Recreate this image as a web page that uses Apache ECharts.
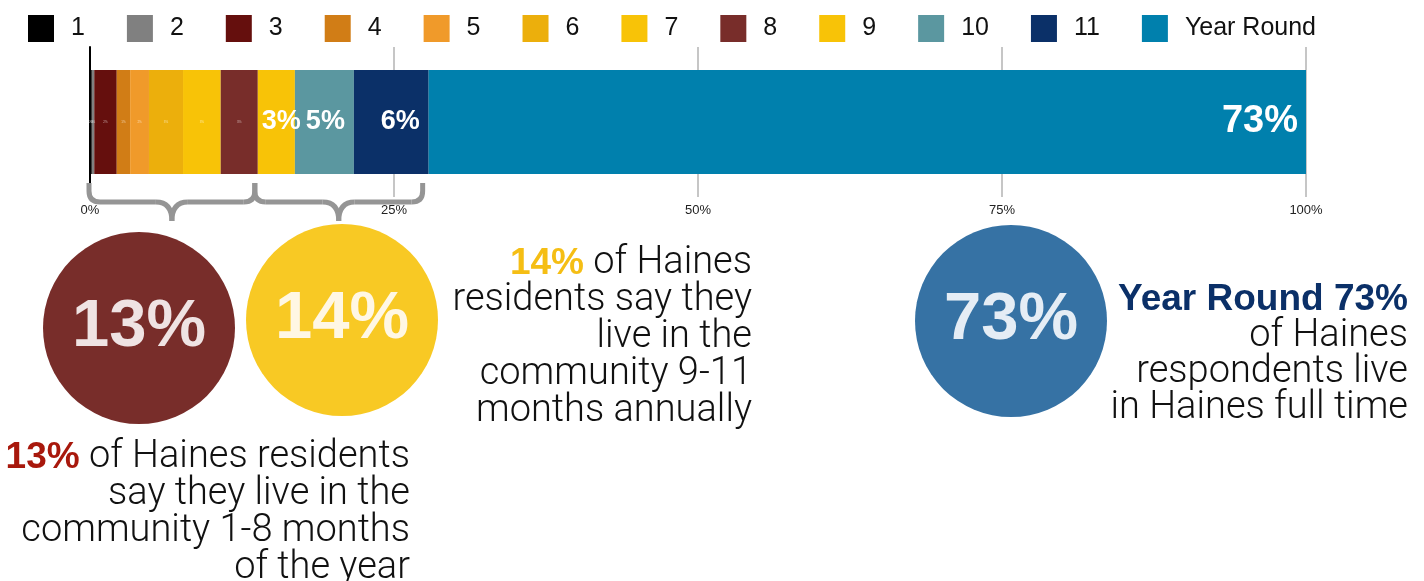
<!DOCTYPE html>
<html>
<head>
<meta charset="utf-8">
<script src="https://cdn.jsdelivr.net/npm/echarts@6/dist/echarts.min.js"></script>
<style>
  html, body { margin: 0; padding: 0; background: #fff; }
  #chart { width: 1424px; height: 581px; }
</style>
</head>
<body>
<div id="chart"></div>
<script>
// Months per year lived in Haines, one stacked bar (share of respondents, %)
const NAMES = ['1', '2', '3', '4', '5', '6', '7', '8', '9', '10', '11', 'Year Round']
const VALUES = [0.15, 0.2, 1.85, 1.1, 1.55, 2.8, 3.1, 3.05, 3.05, 4.85, 6.15, 72.15]
const LABELS = ['0%', '0%', '2%', '1%', '2%', '3%', '3%', '3%', '3%', '5%', '6%', '73%']
const COLORS = ['#000000', '#808080', '#650f0d', '#d17d16', '#f09a2a', '#ecaf0c', '#f8c307',
  '#782d2a', '#f8c307', '#5b97a0', '#0b3068', '#0080ad']
// groups for the braces: months 1-8 and months 9-11
const GROUPS = [[0, 7], [8, 10]]

const FONT = '"Liberation Sans", Arial, Helvetica, sans-serif'
const LIGHT = 'Roboto, "Liberation Sans", Arial, sans-serif'

const chart = echarts.init(document.getElementById('chart'))

function labelFor(i) {
  const big = { 8: [27, [5, 0]], 9: [27, [1, 0]], 10: [27, [9, 0]] }
  if (i === 11) {
    return { show: true, position: 'insideRight', distance: 8, formatter: LABELS[i],
      color: '#fff', fontWeight: 'bold', fontSize: 38, fontFamily: FONT }
  }
  if (big[i]) {
    return { show: true, position: 'inside', offset: big[i][1], formatter: LABELS[i],
      color: '#fff', fontWeight: 'bold', fontSize: big[i][0], fontFamily: FONT }
  }
  return { show: true, position: 'inside', formatter: LABELS[i], color: 'rgba(255,255,255,0.6)',
    fontSize: 3, fontFamily: FONT }
}

chart.setOption({
  animation: false,
  textStyle: { fontFamily: FONT },
  legend: {
    left: 23, top: 10, icon: 'rect', itemWidth: 26, itemHeight: 27, itemGap: 42,
    textStyle: { fontSize: 25, color: '#111', padding: [0, 0, 0, 12] },
    data: NAMES,
  },
  grid: { left: 90, right: 118, top: 47, bottom: 384 },
  xAxis: {
    type: 'value', min: 0, max: 100, interval: 25,
    axisLine: { show: false }, axisTick: { show: false },
    axisLabel: { formatter: '{value}%', fontSize: 13, color: '#222', margin: 7 },
    splitLine: { lineStyle: { color: '#c6c6c6', width: 2 } },
  },
  yAxis: {
    type: 'category', data: ['Haines'],
    axisLine: { lineStyle: { color: '#000', width: 2 } },
    axisTick: { show: false }, axisLabel: { show: false },
  },
  series: NAMES.map((n, i) => ({
    name: n, type: 'bar', stack: 'all', barWidth: 104,
    itemStyle: { color: COLORS[i] },
    label: labelFor(i),
    data: [VALUES[i]],
  })),
})

// braces under the bar, placed from the cumulative values
const cum = [0]
VALUES.forEach((v, i) => cum.push(cum[i] + v))
const px = (v) => chart.convertToPixel({ xAxisIndex: 0 }, v)

const brace = []
const bStyle = { stroke: '#959595', lineWidth: 5, fill: null }
const y0 = 183, y1 = 202, y2 = 221, r = 11, rt = 16
GROUPS.forEach(([a, b], k) => {
  const xa = px(cum[a]) + (k === 0 ? -1 : -3)
  const xb = px(cum[b + 1]) - (k === 0 ? 3 : 6)
  const xm = (xa + xb) / 2
  const seg = (shape, type) => brace.push({ type, shape, style: bStyle, z: 10 })
  seg({ x1: xa, y1: y0, x2: xa, y2: y1 - r }, 'line')
  seg({ x1: xa, y1: y1 - r, cpx1: xa, cpy1: y1, x2: xa + r, y2: y1 }, 'bezierCurve')
  seg({ x1: xa + r, y1: y1, x2: xm - rt, y2: y1 }, 'line')
  seg({ x1: xm - rt, y1: y1, cpx1: xm, cpy1: y1, x2: xm, y2: y2 }, 'bezierCurve')
  seg({ x1: xm, y1: y2, cpx1: xm, cpy1: y1, x2: xm + rt, y2: y1 }, 'bezierCurve')
  seg({ x1: xm + rt, y1: y1, x2: xb - r, y2: y1 }, 'line')
  seg({ x1: xb - r, y1: y1, cpx1: xb, cpy1: y1, x2: xb, y2: y1 - r }, 'bezierCurve')
  seg({ x1: xb, y1: y1 - r, x2: xb, y2: y0 }, 'line')
})

function bubble(cx, cy, fill, text, color) {
  return [
    { type: 'circle', shape: { cx, cy, r: 96 }, style: { fill } },
    { type: 'text', x: cx, y: cy, z: 5,
      style: { text, fill: color, fontSize: 67, fontWeight: 'bold', fontFamily: FONT,
        align: 'center', verticalAlign: 'middle' } },
  ]
}

function note(x, y, lead, leadColor, rest, lh) {
  return {
    type: 'text', x, y, z: 5,
    style: {
      text: '{b|' + lead + '}' + rest, fill: '#111', fontSize: 38, fontWeight: 300,
      fontFamily: LIGHT, align: 'right', verticalAlign: 'top', lineHeight: lh,
      rich: { b: { fill: leadColor, fontWeight: 'bold', fontSize: 37, fontFamily: FONT, lineHeight: lh } },
    },
  }
}

chart.setOption({
  graphic: [
    ...brace,
    ...bubble(139, 328, '#782d2a', '13%', '#efe3e3'),
    ...bubble(342, 320, '#f8c924', '14%', '#fff7e4'),
    ...bubble(1011, 321, '#3672a4', '73%', '#e5edf5'),
    note(752, 245, '14%', '#f5be14', ' of Haines\nresidents say they\nlive in the\ncommunity 9-11\nmonths annually', 37),
    note(410, 439, '13%', '#a8180c', ' of Haines residents\nsay they live in the\ncommunity 1-8 months\nof the year', 37),
    note(1408, 282, 'Year Round 73%', '#0b3068', '\nof Haines\nrespondents live\nin Haines full time', 36),
  ],
})
</script>
</body>
</html>
